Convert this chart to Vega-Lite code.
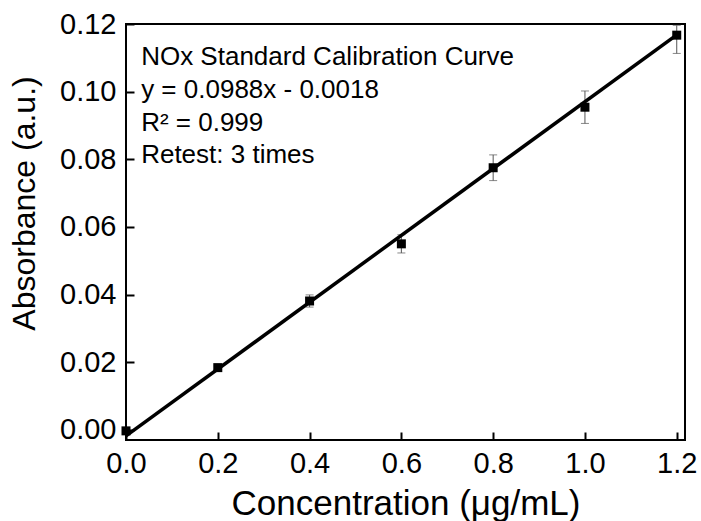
{
  "$schema": "https://vega.github.io/schema/vega-lite/v6.json",
  "width": 559,
  "height": 416,
  "autosize": {"type": "none"},
  "padding": {"left": 126, "top": 24, "right": 16, "bottom": 81},
  "background": "white",
  "config": {
    "font": "Liberation Sans",
    "view": {"stroke": "black", "strokeWidth": 2},
    "axis": {
      "grid": false,
      "domain": false,
      "ticks": true,
      "tickSize": -8,
      "tickWidth": 2,
      "tickColor": "black",
      "labelFlush": false,
      "labelFont": "Liberation Sans",
      "labelFontSize": 29,
      "labelColor": "black",
      "titleFont": "Liberation Sans",
      "titleFontSize": 33,
      "titleFontWeight": "normal",
      "titleColor": "black"
    }
  },
  "datasets": {
    "points": [
      {"conc": 0.0, "abs": -0.0003, "lo": -0.0005, "hi": -0.0001},
      {"conc": 0.2, "abs": 0.0184, "lo": 0.0179, "hi": 0.0189},
      {"conc": 0.4, "abs": 0.0381, "lo": 0.0363, "hi": 0.0399},
      {"conc": 0.6, "abs": 0.0550, "lo": 0.0523, "hi": 0.0577},
      {"conc": 0.8, "abs": 0.0775, "lo": 0.0737, "hi": 0.0813},
      {"conc": 1.0, "abs": 0.0954, "lo": 0.0906, "hi": 0.1002},
      {"conc": 1.2, "abs": 0.1167, "lo": 0.1113, "hi": 0.1196}
    ],
    "fit": [
      {"conc": 0.0, "abs": -0.0018},
      {"conc": 1.2, "abs": 0.1168}
    ],
    "notes": [
      {"tx": 0.033, "ty": 0.1079, "label": "NOx Standard Calibration Curve"},
      {"tx": 0.033, "ty": 0.0982, "label": "y = 0.0988x - 0.0018"},
      {"tx": 0.033, "ty": 0.0885, "label": "R² = 0.999"},
      {"tx": 0.033, "ty": 0.0788, "label": "Retest: 3 times"}
    ]
  },
  "layer": [
    {
      "data": {"name": "points"},
      "mark": {"type": "errorbar", "ticks": {"color": "#555555", "size": 8, "thickness": 1}, "rule": {"color": "#555555", "strokeWidth": 1}},
      "encoding": {
        "x": {"field": "conc", "type": "quantitative", "scale": {"domain": [0, 1.218], "nice": false, "zero": false},
              "axis": {"values": [0, 0.2, 0.4, 0.6, 0.8, 1.0, 1.2], "format": ".1f", "title": "Concentration (μg/mL)", "labelPadding": 17, "titlePadding": 8, "titleFontSize": 35}},
        "y": {"field": "lo", "type": "quantitative", "scale": {"domain": [-0.003, 0.12], "nice": false, "zero": false},
              "axis": {"values": [0, 0.02, 0.04, 0.06, 0.08, 0.1, 0.12], "format": ".2f", "title": "Absorbance (a.u.)", "labelPadding": 18, "titlePadding": 18, "titleFontSize": 32, "titleY": 179}},
        "y2": {"field": "hi"}
      }
    },
    {
      "data": {"name": "points"},
      "mark": {"type": "square", "filled": true, "color": "black", "size": 81, "opacity": 1},
      "encoding": {
        "x": {"field": "conc", "type": "quantitative"},
        "y": {"field": "abs", "type": "quantitative"}
      }
    },
    {
      "data": {"name": "fit"},
      "mark": {"type": "line", "color": "black", "strokeWidth": 3.5},
      "encoding": {
        "x": {"field": "conc", "type": "quantitative"},
        "y": {"field": "abs", "type": "quantitative"}
      }
    },
    {
      "data": {"name": "notes"},
      "mark": {"type": "text", "align": "left", "baseline": "alphabetic", "fontSize": 26, "color": "black", "font": "Liberation Sans"},
      "encoding": {
        "x": {"field": "tx", "type": "quantitative"},
        "y": {"field": "ty", "type": "quantitative"},
        "text": {"field": "label"}
      }
    }
  ]
}
